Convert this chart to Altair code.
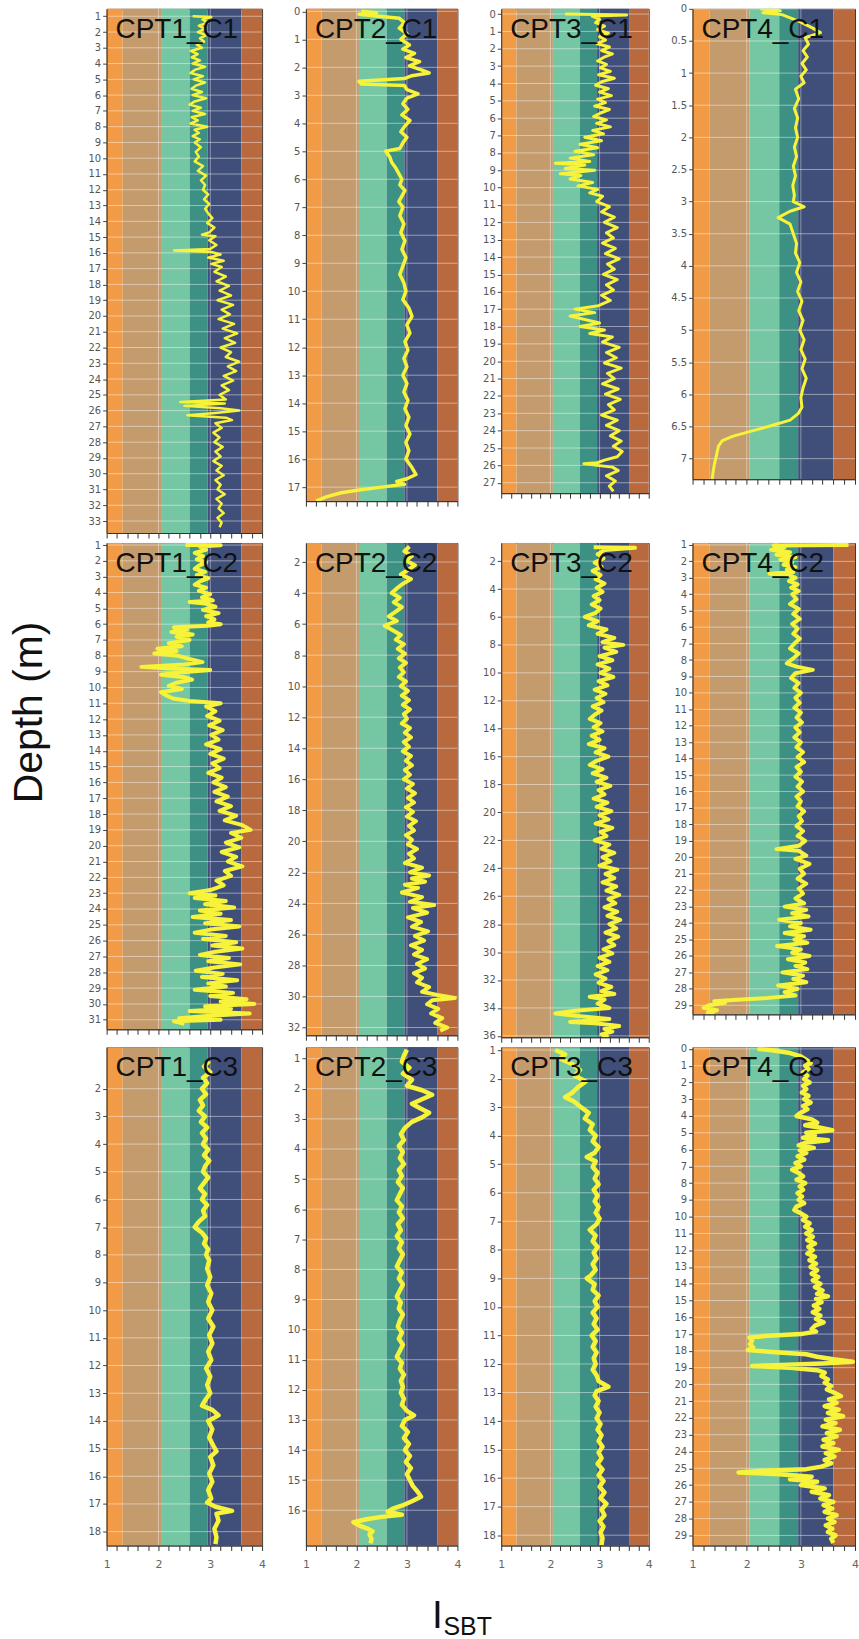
import altair as alt
import pandas as pd

# Robertson soil-behaviour-type zones along the I_SBT axis
zone_names = ["Gravelly sand", "Sands", "Sand mixtures", "Silt mixtures", "Clays", "Organic soils"]
zone_lo = [1.0, 1.31, 2.05, 2.6, 2.95, 3.6]
zone_hi = [1.31, 2.05, 2.6, 2.95, 3.6, 4.0]
zone_colors = ["#F19B47", "#C49B6C", "#75C6A2", "#3C9184", "#3F4F79", "#B9693E"]

# I_SBT axis: major ticks at integers, minor ticks every 0.2
isbt_ticks = [1.0, 1.2, 1.4, 1.6, 1.8, 2.0, 2.2, 2.4, 2.6, 2.8, 3.0, 3.2, 3.4, 3.6, 3.8, 4.0]
isbt_labels = [1, 2, 3, 4]

# Depth tick labels of each sounding
ticks_cpt1_c1 = list(range(1, 34))
ticks_cpt2_c1 = list(range(0, 18))
ticks_cpt3_c1 = list(range(0, 28))
ticks_cpt4_c1 = [0, 0.5, 1, 1.5, 2, 2.5, 3, 3.5, 4, 4.5, 5, 5.5, 6, 6.5, 7]
ticks_cpt1_c2 = list(range(1, 32))
ticks_cpt2_c2 = list(range(2, 33, 2))
ticks_cpt3_c2 = list(range(2, 37, 2))
ticks_cpt4_c2 = list(range(1, 30))
ticks_cpt1_c3 = list(range(2, 19))
ticks_cpt2_c3 = list(range(1, 17))
ticks_cpt3_c3 = list(range(1, 19))
ticks_cpt4_c3 = list(range(0, 30))

# (depth m, I_SBT) profiles
cpt1_c1 = [
    (1.0, 2.66), (1.05, 3.02), (1.2, 2.85), (1.4, 2.95), (1.6, 2.78), (1.8, 2.90), (2.0, 2.76), (2.2, 2.92),
    (2.4, 2.80), (2.6, 2.88), (2.8, 2.74), (3.0, 2.84), (3.2, 2.62), (3.4, 2.76), (3.6, 2.64), (3.8, 2.80),
    (4.0, 2.66), (4.2, 2.90), (4.4, 2.70), (4.6, 2.62), (4.8, 2.86), (5.0, 2.68), (5.2, 2.90), (5.4, 2.72),
    (5.6, 2.64), (5.8, 2.84), (6.0, 2.66), (6.2, 2.92), (6.4, 2.70), (6.6, 2.60), (6.8, 2.82), (7.0, 2.66),
    (7.2, 2.90), (7.4, 2.64), (7.6, 2.76), (7.8, 2.62), (8.0, 2.94), (8.2, 2.70), (8.4, 2.78), (8.6, 2.66),
    (8.8, 2.80), (9.0, 2.70), (9.3, 2.82), (9.6, 2.72), (9.9, 2.78), (10.2, 2.70), (10.5, 2.86), (10.8, 2.76),
    (11.1, 2.92), (11.4, 2.82), (11.7, 2.90), (12.0, 2.86), (12.3, 2.96), (12.6, 2.88), (12.9, 2.98), (13.2, 2.90),
    (13.5, 2.96), (13.8, 3.04), (14.1, 2.94), (14.4, 3.08), (14.7, 2.98), (14.85, 2.84), (14.95, 3.10), (15.2, 2.98),
    (15.5, 3.12), (15.75, 3.00), (15.85, 2.30), (15.95, 3.02), (16.1, 3.20), (16.3, 2.96), (16.5, 3.26), (16.7, 3.02),
    (16.9, 3.22), (17.2, 3.08), (17.5, 3.30), (17.8, 3.12), (18.1, 3.36), (18.4, 3.18), (18.7, 3.40), (19.0, 3.14),
    (19.3, 3.44), (19.6, 3.22), (19.9, 3.38), (20.2, 3.16), (20.5, 3.46), (20.8, 3.24), (21.1, 3.52), (21.4, 3.28),
    (21.7, 3.48), (22.0, 3.20), (22.3, 3.40), (22.6, 3.30), (22.9, 3.56), (23.2, 3.34), (23.5, 3.50), (23.8, 3.26),
    (24.1, 3.44), (24.4, 3.22), (24.7, 3.36), (25.0, 3.18), (25.3, 3.30), (25.45, 2.42), (25.55, 3.28), (25.7, 2.50),
    (25.85, 3.20), (26.0, 3.56), (26.15, 3.10), (26.3, 2.56), (26.45, 3.30), (26.6, 3.42), (26.8, 3.10), (27.1, 3.22),
    (27.4, 3.06), (27.7, 3.18), (28.0, 3.08), (28.3, 3.24), (28.6, 3.10), (28.9, 3.20), (29.2, 3.06), (29.5, 3.22),
    (29.8, 3.12), (30.1, 3.26), (30.4, 3.10), (30.7, 3.20), (31.0, 3.14), (31.3, 3.28), (31.6, 3.12), (31.9, 3.22),
    (32.2, 3.16), (32.5, 3.26), (32.8, 3.14), (33.1, 3.22), (33.4, 3.18),
]

cpt2_c1 = [
    (0.0, 2.10), (0.05, 2.40), (0.1, 2.05), (0.15, 2.30), (0.25, 2.85), (0.4, 2.95), (0.6, 2.85), (0.8, 3.00),
    (1.0, 2.88), (1.2, 3.05), (1.35, 2.92), (1.5, 3.15), (1.65, 2.98), (1.8, 3.25), (1.95, 3.05), (2.1, 3.30),
    (2.2, 3.44), (2.3, 3.10), (2.4, 2.95), (2.5, 2.05), (2.6, 2.10), (2.65, 2.95), (2.8, 3.00), (2.95, 3.22),
    (3.1, 3.00), (3.3, 2.92), (3.5, 3.02), (3.7, 2.90), (3.9, 3.06), (4.1, 2.96), (4.3, 2.88), (4.5, 3.00),
    (4.7, 2.92), (4.9, 2.86), (5.0, 2.58), (5.2, 2.66), (5.4, 2.70), (5.6, 2.78), (5.8, 2.84), (6.0, 2.90),
    (6.2, 2.86), (6.4, 2.96), (6.6, 2.90), (6.8, 2.84), (7.0, 2.92), (7.3, 2.86), (7.6, 2.94), (7.9, 2.88),
    (8.2, 2.96), (8.5, 2.90), (8.8, 2.98), (9.1, 2.92), (9.4, 2.86), (9.7, 2.94), (10.0, 2.98), (10.3, 2.92),
    (10.6, 3.04), (10.9, 3.10), (11.2, 3.00), (11.5, 3.06), (11.8, 2.96), (12.1, 3.02), (12.4, 2.94), (12.7, 3.00),
    (13.0, 2.92), (13.3, 3.00), (13.6, 2.94), (13.9, 3.02), (14.2, 2.96), (14.5, 3.04), (14.8, 2.98), (15.1, 3.06),
    (15.4, 2.98), (15.7, 3.04), (16.0, 2.98), (16.3, 3.10), (16.55, 3.18), (16.7, 3.00), (16.8, 2.80), (16.9, 2.95),
    (17.0, 2.50), (17.1, 2.05), (17.2, 1.70), (17.35, 1.40), (17.5, 1.20),
]

cpt3_c1 = [
    (0.0, 2.30), (0.05, 3.55), (0.12, 2.85), (0.3, 3.00), (0.5, 2.92), (0.7, 3.10), (0.9, 2.96), (1.1, 3.18),
    (1.3, 3.00), (1.5, 3.12), (1.7, 2.94), (1.9, 3.20), (2.1, 3.04), (2.3, 3.26), (2.5, 3.08), (2.7, 2.96),
    (2.9, 3.14), (3.1, 3.02), (3.3, 3.22), (3.5, 2.98), (3.7, 3.30), (3.9, 3.04), (4.1, 2.92), (4.3, 3.18),
    (4.5, 3.00), (4.7, 3.24), (4.9, 2.96), (5.1, 3.12), (5.3, 2.90), (5.5, 3.20), (5.7, 3.02), (5.9, 2.88),
    (6.1, 3.14), (6.3, 2.94), (6.5, 3.22), (6.7, 2.86), (6.9, 3.08), (7.1, 2.70), (7.3, 3.04), (7.5, 2.60),
    (7.7, 2.96), (7.9, 2.50), (8.1, 2.88), (8.3, 2.40), (8.5, 2.80), (8.6, 2.10), (8.7, 2.70), (8.9, 2.30),
    (9.0, 2.90), (9.2, 2.20), (9.3, 2.62), (9.5, 2.40), (9.7, 2.86), (9.9, 2.56), (10.1, 2.96), (10.3, 2.80),
    (10.5, 3.06), (10.8, 2.94), (11.1, 3.20), (11.4, 3.04), (11.7, 3.30), (12.0, 3.10), (12.3, 3.36), (12.6, 3.14),
    (12.9, 3.28), (13.2, 3.06), (13.5, 3.32), (13.8, 3.12), (14.1, 3.40), (14.4, 3.16), (14.7, 3.30), (15.0, 3.08),
    (15.3, 3.36), (15.6, 3.14), (15.9, 3.28), (16.2, 3.04), (16.5, 3.22), (16.8, 2.98), (17.0, 2.50), (17.2, 2.90),
    (17.4, 2.40), (17.6, 2.70), (17.8, 3.00), (18.0, 2.60), (18.2, 3.10), (18.4, 2.80), (18.6, 3.26), (18.9, 3.06),
    (19.2, 3.40), (19.5, 3.14), (19.8, 3.34), (20.1, 3.10), (20.4, 3.44), (20.7, 3.16), (21.0, 3.30), (21.3, 3.06),
    (21.6, 3.38), (21.9, 3.12), (22.2, 3.42), (22.5, 3.18), (22.8, 3.30), (23.1, 3.04), (23.4, 3.36), (23.7, 3.14),
    (24.0, 3.40), (24.3, 3.22), (24.6, 3.44), (24.9, 3.28), (25.2, 3.46), (25.5, 3.36), (25.7, 3.10), (25.85, 2.95),
    (25.9, 2.68), (26.0, 2.95), (26.1, 3.26), (26.3, 3.38), (26.6, 3.14), (26.9, 3.32), (27.2, 3.20), (27.5, 3.28),
]

cpt4_c1 = [
    (0.0, 2.25), (0.03, 2.62), (0.06, 2.30), (0.09, 2.65), (0.2, 2.98), (0.3, 3.22), (0.37, 3.36), (0.45, 3.08),
    (0.55, 3.14), (0.65, 3.04), (0.75, 3.12), (0.85, 3.02), (0.95, 3.10), (1.05, 3.00), (1.15, 3.06), (1.25, 2.90),
    (1.4, 2.96), (1.55, 2.88), (1.7, 2.94), (1.85, 2.90), (2.0, 2.94), (2.15, 2.88), (2.3, 2.92), (2.45, 2.86),
    (2.6, 2.90), (2.75, 2.85), (2.9, 2.88), (3.0, 2.86), (3.08, 3.06), (3.15, 2.80), (3.25, 2.58), (3.35, 2.80),
    (3.5, 2.86), (3.65, 2.92), (3.8, 2.90), (3.95, 2.98), (4.1, 2.92), (4.25, 3.00), (4.4, 2.94), (4.55, 3.02),
    (4.7, 2.96), (4.85, 3.04), (5.0, 2.98), (5.15, 3.06), (5.3, 3.00), (5.45, 3.08), (5.6, 3.02), (5.75, 3.10),
    (5.9, 3.04), (6.05, 3.00), (6.2, 3.02), (6.3, 2.95), (6.4, 2.80), (6.5, 2.40), (6.58, 2.05), (6.65, 1.75),
    (6.72, 1.55), (6.8, 1.48), (6.95, 1.44), (7.1, 1.40), (7.2, 1.38), (7.33, 1.36),
]

cpt1_c2 = [
    (1.0, 2.52), (1.02, 3.20), (1.1, 2.80), (1.3, 2.92), (1.5, 2.70), (1.7, 2.86), (1.9, 2.74), (2.1, 2.92),
    (2.3, 2.78), (2.5, 2.70), (2.7, 2.90), (2.9, 2.74), (3.1, 2.96), (3.3, 2.80), (3.5, 2.70), (3.7, 2.92),
    (3.9, 2.78), (4.1, 3.00), (4.3, 2.84), (4.5, 3.05), (4.6, 2.60), (4.7, 2.90), (4.9, 3.10), (5.1, 2.86),
    (5.3, 3.16), (5.5, 2.92), (5.7, 3.08), (5.9, 2.96), (6.0, 3.20), (6.1, 2.95), (6.2, 2.30), (6.35, 2.55),
    (6.5, 2.25), (6.65, 2.66), (6.8, 2.35), (7.0, 2.60), (7.2, 2.20), (7.4, 2.45), (7.55, 1.98), (7.7, 2.35),
    (7.85, 1.92), (8.0, 2.38), (8.2, 2.60), (8.4, 2.85), (8.55, 2.50), (8.7, 1.67), (8.8, 2.20), (8.9, 3.00),
    (9.05, 2.40), (9.2, 2.05), (9.35, 2.50), (9.5, 2.65), (9.7, 2.35), (9.9, 2.20), (10.1, 2.45), (10.3, 2.05),
    (10.5, 2.15), (10.7, 2.28), (10.85, 2.60), (11.0, 3.20), (11.2, 2.92), (11.5, 3.10), (11.8, 2.94), (12.1, 3.18),
    (12.4, 2.98), (12.7, 3.24), (13.0, 3.02), (13.3, 3.16), (13.6, 2.92), (13.9, 3.20), (14.2, 3.00), (14.5, 3.26),
    (14.8, 3.04), (15.1, 3.18), (15.4, 2.96), (15.7, 3.22), (16.0, 3.06), (16.3, 3.30), (16.6, 3.08), (16.9, 3.34),
    (17.2, 3.12), (17.5, 3.40), (17.8, 3.18), (18.1, 3.50), (18.4, 3.28), (18.7, 3.62), (19.0, 3.78), (19.2, 3.40),
    (19.5, 3.60), (19.8, 3.30), (20.1, 3.56), (20.4, 3.22), (20.7, 3.50), (21.0, 3.34), (21.3, 3.62), (21.6, 3.28),
    (21.9, 3.40), (22.2, 3.12), (22.5, 3.26), (22.8, 3.00), (23.0, 2.60), (23.15, 3.10), (23.3, 2.70), (23.5, 3.30),
    (23.7, 2.90), (23.9, 3.46), (24.1, 2.80), (24.3, 3.20), (24.5, 2.66), (24.7, 3.40), (24.9, 2.90), (25.1, 3.56),
    (25.3, 3.00), (25.5, 2.70), (25.7, 3.30), (25.9, 2.86), (26.1, 3.50), (26.3, 3.04), (26.5, 3.62), (26.7, 3.10),
    (26.9, 2.80), (27.1, 3.36), (27.3, 2.96), (27.5, 3.58), (27.7, 3.08), (27.9, 2.72), (28.1, 3.24), (28.3, 2.84),
    (28.5, 3.52), (28.7, 2.96), (28.9, 3.30), (29.1, 2.70), (29.3, 3.44), (29.5, 3.00), (29.7, 3.70), (29.85, 3.20),
    (30.0, 3.85), (30.15, 2.90), (30.3, 3.40), (30.45, 2.60), (30.6, 3.76), (30.75, 3.00), (30.9, 2.40), (31.0, 3.20),
    (31.1, 2.30), (31.25, 2.50),
]

cpt2_c2 = [
    (1.0, 3.05), (1.3, 2.95), (1.6, 3.10), (1.9, 2.98), (2.2, 3.16), (2.5, 3.02), (2.8, 2.88), (3.1, 3.08),
    (3.4, 2.92), (3.7, 2.80), (4.0, 2.70), (4.3, 2.86), (4.6, 2.74), (4.9, 2.90), (5.2, 2.78), (5.5, 2.64),
    (5.8, 2.80), (6.1, 2.56), (6.4, 2.72), (6.7, 2.88), (7.0, 2.78), (7.3, 2.94), (7.6, 2.82), (7.9, 2.96),
    (8.2, 2.84), (8.5, 2.98), (8.8, 2.86), (9.1, 2.94), (9.4, 2.84), (9.7, 2.98), (10.0, 2.88), (10.3, 3.02),
    (10.6, 2.90), (10.9, 3.04), (11.2, 2.92), (11.5, 3.06), (11.8, 2.94), (12.1, 3.00), (12.4, 2.90), (12.7, 3.06),
    (13.0, 2.96), (13.3, 3.08), (13.6, 2.94), (13.9, 3.04), (14.2, 2.92), (14.5, 3.08), (14.8, 2.98), (15.1, 3.10),
    (15.4, 2.96), (15.7, 3.06), (16.0, 2.94), (16.3, 3.12), (16.6, 3.00), (16.9, 3.16), (17.2, 3.02), (17.5, 3.14),
    (17.8, 2.98), (18.1, 3.12), (18.4, 3.00), (18.7, 3.18), (19.0, 3.04), (19.3, 3.14), (19.6, 2.98), (19.9, 3.10),
    (20.2, 3.02), (20.5, 3.20), (20.8, 3.04), (21.1, 3.14), (21.4, 2.96), (21.7, 3.30), (22.0, 3.06), (22.2, 3.44),
    (22.4, 3.10), (22.6, 3.36), (22.8, 2.96), (23.0, 3.22), (23.3, 2.90), (23.6, 3.30), (23.9, 3.06), (24.1, 3.54),
    (24.3, 3.12), (24.6, 3.40), (24.9, 3.02), (25.2, 3.28), (25.5, 3.10), (25.8, 3.42), (26.1, 3.16), (26.4, 3.34),
    (26.7, 3.08), (27.0, 3.30), (27.3, 3.14), (27.6, 3.40), (27.9, 3.20), (28.2, 3.36), (28.5, 3.14), (28.8, 3.30),
    (29.1, 3.20), (29.4, 3.44), (29.7, 3.30), (29.9, 3.60), (30.1, 3.95), (30.25, 3.50), (30.5, 3.40), (30.8, 3.62),
    (31.1, 3.48), (31.4, 3.70), (31.7, 3.56), (32.0, 3.80), (32.2, 3.66),
]

cpt3_c2 = [
    (1.0, 2.88), (1.05, 3.72), (1.2, 3.10), (1.5, 2.96), (1.8, 3.08), (2.1, 2.90), (2.4, 3.04), (2.7, 2.86),
    (3.0, 3.02), (3.3, 2.92), (3.6, 3.10), (3.9, 2.94), (4.2, 3.06), (4.5, 2.88), (4.8, 3.00), (5.1, 2.84),
    (5.4, 3.02), (5.7, 2.92), (6.0, 2.70), (6.3, 2.96), (6.6, 2.78), (6.9, 3.14), (7.2, 2.96), (7.5, 3.30),
    (7.8, 3.06), (8.0, 3.48), (8.2, 3.10), (8.5, 3.34), (8.8, 3.00), (9.1, 3.26), (9.4, 2.96), (9.7, 3.20),
    (10.0, 3.02), (10.3, 3.28), (10.6, 2.98), (10.9, 3.16), (11.2, 2.90), (11.5, 3.12), (11.8, 2.94), (12.1, 3.08),
    (12.4, 2.86), (12.7, 3.04), (13.0, 2.90), (13.3, 2.80), (13.6, 3.02), (13.9, 2.88), (14.2, 3.06), (14.5, 2.84),
    (14.8, 3.00), (15.1, 2.78), (15.4, 3.10), (15.7, 2.92), (16.0, 3.18), (16.3, 2.94), (16.6, 2.80), (16.9, 3.06),
    (17.2, 2.86), (17.5, 3.14), (17.8, 2.94), (18.1, 3.22), (18.4, 2.98), (18.7, 3.10), (19.0, 2.88), (19.3, 3.16),
    (19.6, 2.94), (19.9, 3.24), (20.2, 3.00), (20.5, 3.18), (20.8, 2.92), (21.1, 3.26), (21.4, 3.02), (21.7, 3.14),
    (22.0, 2.90), (22.3, 3.20), (22.6, 3.04), (22.9, 3.30), (23.2, 3.06), (23.5, 3.22), (23.8, 3.00), (24.1, 3.36),
    (24.4, 3.12), (24.7, 3.30), (25.0, 3.06), (25.3, 3.34), (25.6, 3.14), (25.9, 3.40), (26.2, 3.18), (26.5, 3.32),
    (26.8, 3.10), (27.1, 3.36), (27.4, 3.16), (27.7, 3.42), (28.0, 3.20), (28.3, 3.34), (28.6, 3.12), (28.9, 3.38),
    (29.2, 3.18), (29.5, 3.30), (29.8, 3.08), (30.1, 3.26), (30.4, 3.00), (30.7, 3.20), (31.0, 2.96), (31.3, 3.16),
    (31.6, 2.92), (31.9, 3.12), (32.2, 2.98), (32.5, 3.24), (32.8, 3.04), (33.0, 3.30), (33.2, 2.80), (33.4, 3.10),
    (33.7, 2.96), (34.0, 3.20), (34.2, 2.50), (34.4, 2.10), (34.6, 2.60), (34.8, 3.20), (35.0, 2.40), (35.1, 2.90),
    (35.3, 3.40), (35.5, 3.10), (35.7, 3.26), (35.9, 3.04), (36.1, 3.18),
]

cpt4_c2 = [
    (1.0, 3.88), (1.03, 2.50), (1.15, 2.70), (1.3, 2.45), (1.45, 2.80), (1.6, 2.55), (1.75, 2.90), (1.9, 2.62),
    (2.05, 2.84), (2.2, 2.68), (2.35, 2.90), (2.5, 2.74), (2.65, 2.86), (2.75, 2.42), (2.85, 2.80), (3.0, 2.90),
    (3.2, 2.78), (3.4, 2.94), (3.6, 2.82), (3.8, 2.96), (4.0, 2.84), (4.3, 2.92), (4.6, 2.80), (4.9, 2.96),
    (5.2, 2.86), (5.5, 2.98), (5.8, 2.84), (6.1, 2.94), (6.4, 2.86), (6.7, 2.98), (7.0, 2.88), (7.3, 2.80),
    (7.6, 2.96), (7.9, 2.86), (8.2, 2.74), (8.4, 2.92), (8.6, 3.22), (8.8, 2.90), (9.1, 2.82), (9.4, 2.96),
    (9.7, 2.88), (10.0, 3.00), (10.3, 2.90), (10.6, 2.98), (10.9, 2.88), (11.2, 3.00), (11.5, 2.92), (11.8, 3.02),
    (12.1, 2.90), (12.4, 2.98), (12.7, 2.88), (13.0, 3.00), (13.3, 2.92), (13.6, 3.04), (13.9, 2.94), (14.2, 3.06),
    (14.5, 2.92), (14.8, 3.00), (15.1, 2.90), (15.4, 3.02), (15.7, 2.94), (16.0, 3.04), (16.3, 2.92), (16.6, 3.00),
    (16.9, 2.94), (17.2, 3.06), (17.5, 2.96), (17.8, 3.02), (18.1, 2.92), (18.4, 3.04), (18.7, 2.94), (19.0, 3.08),
    (19.3, 2.96), (19.5, 2.55), (19.6, 2.96), (19.9, 3.10), (20.1, 2.90), (20.4, 3.16), (20.7, 2.98), (21.0, 3.06),
    (21.3, 2.94), (21.6, 3.10), (21.9, 2.96), (22.2, 3.04), (22.5, 2.90), (22.8, 3.06), (23.0, 2.70), (23.2, 3.10),
    (23.4, 2.84), (23.6, 3.14), (23.8, 2.60), (24.0, 3.00), (24.2, 2.80), (24.4, 3.18), (24.6, 2.70), (24.8, 3.06),
    (25.0, 2.88), (25.2, 3.12), (25.4, 2.56), (25.6, 3.00), (25.8, 2.84), (26.0, 3.16), (26.2, 2.76), (26.4, 3.08),
    (26.6, 2.90), (26.8, 3.12), (27.0, 2.66), (27.2, 3.04), (27.4, 2.86), (27.6, 3.10), (27.8, 2.58), (28.0, 2.94),
    (28.2, 2.70), (28.4, 2.90), (28.55, 2.40), (28.65, 1.90), (28.75, 1.40), (28.85, 1.60), (29.0, 1.30), (29.15, 1.20),
    (29.3, 1.45), (29.45, 1.28), (29.6, 1.40),
]

cpt1_c3 = [
    (1.0, 2.98), (1.2, 2.88), (1.4, 3.00), (1.6, 2.86), (1.8, 2.94), (2.0, 2.84), (2.2, 2.92), (2.4, 2.80),
    (2.6, 2.86), (2.8, 2.78), (3.0, 2.90), (3.2, 2.82), (3.4, 2.94), (3.6, 2.84), (3.8, 2.92), (4.0, 2.86),
    (4.2, 2.96), (4.4, 2.88), (4.6, 2.98), (4.8, 2.90), (5.0, 2.86), (5.2, 2.96), (5.4, 2.88), (5.6, 2.80),
    (5.8, 2.90), (6.0, 2.84), (6.2, 2.94), (6.4, 2.86), (6.6, 2.90), (6.8, 2.78), (7.0, 2.70), (7.2, 2.84),
    (7.4, 2.92), (7.6, 2.88), (7.8, 2.96), (8.0, 2.92), (8.2, 2.98), (8.5, 2.94), (8.8, 3.00), (9.1, 2.94),
    (9.4, 3.02), (9.7, 2.96), (10.0, 3.04), (10.3, 2.96), (10.6, 3.06), (10.9, 2.98), (11.2, 3.04), (11.5, 2.96),
    (11.8, 3.02), (12.1, 2.92), (12.4, 3.00), (12.7, 2.94), (13.0, 3.00), (13.2, 2.92), (13.45, 2.84), (13.6, 3.04),
    (13.8, 3.16), (14.0, 2.96), (14.3, 3.04), (14.6, 2.98), (14.9, 3.06), (15.1, 3.12), (15.3, 3.00), (15.6, 3.06),
    (15.9, 2.98), (16.2, 3.04), (16.5, 2.96), (16.8, 3.02), (16.95, 2.94), (17.1, 3.10), (17.25, 3.42), (17.35, 3.12),
    (17.6, 3.16), (17.9, 3.08), (18.2, 3.12), (18.45, 3.10),
]

cpt2_c3 = [
    (0.7, 3.00), (0.9, 2.94), (1.1, 2.90), (1.3, 3.05), (1.5, 2.92), (1.7, 3.10), (1.9, 3.00), (2.05, 3.30),
    (2.2, 3.50), (2.35, 3.30), (2.5, 3.10), (2.65, 3.26), (2.8, 3.44), (2.95, 3.30), (3.1, 3.10), (3.3, 2.96),
    (3.5, 2.88), (3.7, 2.94), (3.9, 2.84), (4.1, 2.92), (4.3, 2.86), (4.5, 2.94), (4.7, 2.84), (4.9, 2.90),
    (5.1, 2.82), (5.3, 2.92), (5.5, 2.86), (5.7, 2.80), (5.9, 2.90), (6.1, 2.84), (6.3, 2.92), (6.5, 2.82),
    (6.7, 2.88), (6.9, 2.80), (7.1, 2.90), (7.3, 2.84), (7.5, 2.92), (7.7, 2.86), (7.9, 2.80), (8.1, 2.90),
    (8.3, 2.84), (8.5, 2.92), (8.7, 2.86), (8.9, 2.80), (9.1, 2.88), (9.3, 2.84), (9.5, 2.92), (9.7, 2.86),
    (9.9, 2.82), (10.1, 2.90), (10.3, 2.84), (10.5, 2.92), (10.7, 2.86), (10.9, 2.80), (11.1, 2.90), (11.3, 2.86),
    (11.5, 2.94), (11.7, 2.88), (11.9, 2.92), (12.1, 2.88), (12.3, 2.94), (12.5, 2.90), (12.7, 3.00), (12.85, 3.14),
    (13.0, 2.96), (13.2, 2.90), (13.4, 3.02), (13.6, 2.94), (13.8, 3.04), (14.0, 2.96), (14.2, 3.06), (14.4, 2.98),
    (14.6, 3.08), (14.8, 3.00), (15.0, 3.06), (15.2, 3.12), (15.4, 3.22), (15.55, 3.28), (15.7, 3.10), (15.85, 2.90),
    (15.95, 2.72), (16.05, 2.62), (16.15, 2.90), (16.22, 2.50), (16.3, 2.20), (16.4, 1.94), (16.5, 2.05), (16.6, 2.20),
    (16.7, 2.32), (16.8, 2.26), (16.95, 2.30), (17.1, 2.28),
]

cpt3_c3 = [
    (1.0, 2.10), (1.15, 2.30), (1.3, 2.20), (1.5, 2.45), (1.7, 2.60), (1.9, 2.50), (2.1, 2.72), (2.3, 2.56),
    (2.5, 2.44), (2.65, 2.30), (2.8, 2.48), (3.0, 2.62), (3.2, 2.78), (3.4, 2.70), (3.6, 2.86), (3.8, 2.80),
    (4.0, 2.92), (4.2, 2.86), (4.4, 2.98), (4.6, 2.90), (4.75, 2.74), (4.9, 2.92), (5.1, 2.86), (5.3, 2.96),
    (5.5, 2.90), (5.7, 2.98), (5.9, 2.88), (6.1, 2.96), (6.3, 2.90), (6.5, 2.98), (6.7, 2.92), (6.9, 3.00),
    (7.1, 2.94), (7.3, 2.80), (7.5, 2.92), (7.7, 2.86), (7.9, 2.96), (8.1, 2.88), (8.3, 2.94), (8.5, 2.86),
    (8.7, 2.92), (8.9, 2.82), (9.0, 2.74), (9.2, 2.90), (9.4, 2.86), (9.6, 2.98), (9.8, 2.90), (10.0, 2.96),
    (10.2, 2.86), (10.4, 2.94), (10.6, 2.88), (10.8, 2.96), (11.0, 2.84), (11.2, 2.92), (11.4, 2.86), (11.6, 2.94),
    (11.8, 2.88), (12.0, 2.92), (12.2, 2.86), (12.4, 2.94), (12.6, 2.98), (12.8, 3.18), (12.95, 2.94), (13.1, 2.90),
    (13.3, 2.98), (13.5, 2.92), (13.7, 3.00), (13.9, 2.94), (14.1, 3.02), (14.3, 2.96), (14.5, 3.04), (14.7, 2.98),
    (14.9, 3.06), (15.1, 2.98), (15.3, 3.04), (15.5, 2.96), (15.7, 3.06), (15.9, 2.98), (16.1, 3.08), (16.3, 3.00),
    (16.5, 3.10), (16.7, 3.02), (16.9, 3.14), (17.1, 3.04), (17.3, 3.10), (17.5, 3.00), (17.7, 3.08), (17.9, 3.02),
    (18.1, 3.06), (18.35, 3.04),
]

cpt4_c3 = [
    (0.0, 2.20), (0.1, 2.50), (0.25, 2.80), (0.45, 3.00), (0.65, 3.10), (0.85, 3.18), (1.0, 3.08), (1.2, 3.14),
    (1.4, 3.04), (1.6, 3.12), (1.8, 3.06), (2.0, 3.16), (2.2, 3.04), (2.4, 3.10), (2.6, 3.02), (2.8, 3.14),
    (3.0, 3.06), (3.2, 3.18), (3.4, 3.04), (3.6, 3.12), (3.8, 3.00), (4.0, 2.92), (4.2, 3.20), (4.4, 3.30),
    (4.55, 3.08), (4.7, 3.36), (4.85, 3.58), (5.0, 3.10), (5.15, 3.26), (5.3, 3.04), (5.45, 3.50), (5.6, 3.08),
    (5.75, 2.96), (5.9, 3.24), (6.05, 2.98), (6.2, 3.10), (6.4, 2.94), (6.6, 3.06), (6.8, 2.90), (7.0, 3.00),
    (7.2, 2.84), (7.4, 2.96), (7.6, 3.04), (7.8, 2.92), (8.0, 3.08), (8.2, 2.98), (8.4, 3.04), (8.6, 2.94),
    (8.8, 3.02), (9.0, 2.96), (9.2, 3.06), (9.4, 2.92), (9.6, 2.88), (9.8, 3.00), (10.0, 3.10), (10.2, 3.04),
    (10.4, 3.16), (10.6, 3.08), (10.8, 3.20), (11.0, 3.10), (11.2, 3.22), (11.4, 3.12), (11.6, 3.26), (11.8, 3.14),
    (12.0, 3.22), (12.2, 3.12), (12.4, 3.26), (12.6, 3.16), (12.8, 3.28), (13.0, 3.18), (13.2, 3.30), (13.4, 3.20),
    (13.6, 3.32), (13.8, 3.22), (14.0, 3.36), (14.2, 3.26), (14.4, 3.40), (14.6, 3.30), (14.75, 3.50), (14.9, 3.28),
    (15.1, 3.38), (15.3, 3.24), (15.5, 3.34), (15.7, 3.22), (15.9, 3.36), (16.1, 3.28), (16.3, 3.42), (16.5, 3.26),
    (16.7, 3.20), (16.85, 3.28), (17.0, 3.00), (17.1, 2.40), (17.2, 2.05), (17.4, 2.10), (17.6, 2.06), (17.8, 2.12),
    (17.95, 2.02), (18.1, 2.60), (18.2, 3.10), (18.35, 3.30), (18.5, 3.60), (18.65, 3.96), (18.75, 3.40), (18.85, 2.50),
    (18.9, 2.10), (19.0, 2.80), (19.15, 3.30), (19.3, 3.44), (19.5, 3.38), (19.7, 3.50), (19.9, 3.44), (20.1, 3.56),
    (20.3, 3.48), (20.5, 3.62), (20.7, 3.74), (20.9, 3.52), (21.1, 3.66), (21.3, 3.44), (21.5, 3.70), (21.7, 3.50),
    (21.9, 3.78), (22.1, 3.46), (22.3, 3.64), (22.5, 3.40), (22.7, 3.72), (22.9, 3.48), (23.1, 3.66), (23.3, 3.42),
    (23.5, 3.60), (23.7, 3.40), (23.9, 3.70), (24.1, 3.46), (24.3, 3.62), (24.5, 3.44), (24.7, 3.56), (24.9, 3.38),
    (25.05, 3.10), (25.15, 2.30), (25.25, 1.85), (25.35, 2.60), (25.5, 3.20), (25.65, 2.80), (25.8, 3.30), (26.0, 3.00),
    (26.2, 3.44), (26.4, 3.20), (26.6, 3.52), (26.8, 3.36), (27.0, 3.60), (27.2, 3.42), (27.4, 3.58), (27.6, 3.44),
    (27.8, 3.66), (28.0, 3.50), (28.2, 3.62), (28.4, 3.46), (28.6, 3.58), (28.8, 3.50), (29.0, 3.64), (29.2, 3.56),
    (29.45, 3.60),
]

# Panel layout (px)
col_widths = [156, 152, 148, 163]
col_gap = 44
row_gap = 10

zones_df = pd.DataFrame({"zone": zone_names, "lo": zone_lo, "hi": zone_hi})

LINE_YELLOW = "#F7F23A"
FONT = "Liberation Sans"


def isbt_panel(name, profile, depth_range, depth_ticks, col, height, bottom_row, stroke_w, extra=()):
    prof = pd.DataFrame(profile, columns=["depth", "isbt"])
    prof["seq"] = range(len(prof))
    width = col_widths[col]

    x_scale = alt.Scale(domain=[1, 4], nice=False, zero=False)
    y_scale = alt.Scale(domain=depth_range, reverse=True, nice=False, zero=False)

    x_axis = alt.Axis(
        values=isbt_ticks, labels=bottom_row, title=None, grid=False, format="~g",
        labelExpr="datum.value % 1 === 0 ? datum.label : ''",
        tickSize=5, tickColor="#333", domainColor="#333", labelFontSize=11,
        labelColor="#666", labelPadding=8, labelOverlap=False, labelFlush=False, zindex=1,
    )
    y_axis = alt.Axis(
        values=depth_ticks, format="~g", title=None, grid=False, tickSize=4,
        tickColor="#444", domainColor="#333", labelFontSize=10, labelColor="#555",
        labelPadding=2, labelOverlap=False, labelFlush=False, zindex=1,
    )

    bands = alt.Chart(zones_df).mark_rect().encode(
        x=alt.X("lo:Q", scale=x_scale, axis=x_axis),
        x2="hi:Q",
        color=alt.Color("zone:N", scale=alt.Scale(domain=zone_names, range=zone_colors), legend=None),
    )
    hgrid = alt.Chart(pd.DataFrame({"depth": depth_ticks})).mark_rule(
        color="white", opacity=0.45, strokeWidth=1
    ).encode(y=alt.Y("depth:Q", scale=y_scale, axis=y_axis))
    vgrid = alt.Chart(pd.DataFrame({"isbt": [v for v in isbt_labels if 1 < v < 4]})).mark_rule(
        color="white", opacity=0.4, strokeWidth=1
    ).encode(x=alt.X("isbt:Q", scale=x_scale, axis=x_axis))
    line = alt.Chart(prof).mark_line(
        color=LINE_YELLOW, strokeWidth=stroke_w, clip=True, strokeJoin="round"
    ).encode(
        x=alt.X("isbt:Q", scale=x_scale, axis=x_axis),
        y=alt.Y("depth:Q", scale=y_scale, axis=y_axis),
        order="seq:Q",
    )
    label = alt.Chart(pd.DataFrame({"t": [name]})).mark_text(
        align="left", baseline="alphabetic", fontSize=28, font=FONT, color="#111"
    ).encode(text="t:N", x=alt.value(9), y=alt.value(29))

    return alt.layer(bands, hgrid, vgrid, line, label, *extra).properties(width=width, height=height)


def text_layer(text, x, y, size, **kw):
    return alt.Chart(pd.DataFrame({"t": [text]})).mark_text(
        fontSize=size, font=FONT, color="#111", **kw
    ).encode(text="t:N", x=alt.value(x), y=alt.value(y))


# Shared axis titles, drawn from the panels next to them
depth_title = text_layer("Depth (m)", -77, 170, 41, angle=270, align="center", baseline="middle")
isbt_main = text_layer("I", 132, 583, 39, align="center", baseline="alphabetic")
isbt_sub = text_layer("SBT", 138, 590, 25, align="left", baseline="alphabetic")

panels = [
    isbt_panel("CPT1_C1", cpt1_c1, [0.53, 33.76], ticks_cpt1_c1, 0, 526, False, 2.5),
    isbt_panel("CPT2_C1", cpt2_c1, [-0.09, 17.5], ticks_cpt2_c1, 1, 494, False, 3.5),
    isbt_panel("CPT3_C1", cpt3_c1, [-0.3, 27.6], ticks_cpt3_c1, 2, 486, False, 3),
    isbt_panel("CPT4_C1", cpt4_c1, [0.0, 7.32], ticks_cpt4_c1, 3, 472, False, 3),
    isbt_panel("CPT1_C2", cpt1_c2, [0.87, 31.6], ticks_cpt1_c2, 0, 488, False, 4, extra=(depth_title,)),
    isbt_panel("CPT2_C2", cpt2_c2, [0.77, 32.5], ticks_cpt2_c2, 1, 494, False, 4),
    isbt_panel("CPT3_C2", cpt3_c2, [0.7, 36.1], ticks_cpt3_c2, 2, 496, False, 4),
    isbt_panel("CPT4_C2", cpt4_c2, [0.88, 29.55], ticks_cpt4_c2, 3, 473, False, 4),
    isbt_panel("CPT1_C3", cpt1_c3, [0.5, 18.5], ticks_cpt1_c3, 0, 500, True, 4.5),
    isbt_panel("CPT2_C3", cpt2_c3, [0.62, 17.17], ticks_cpt2_c3, 1, 500, True, 4.5, extra=(isbt_main, isbt_sub)),
    isbt_panel("CPT3_C3", cpt3_c3, [0.9, 18.36], ticks_cpt3_c3, 2, 500, True, 4.5),
    isbt_panel("CPT4_C3", cpt4_c3, [-0.1, 29.6], ticks_cpt4_c3, 3, 500, True, 4.5),
]

chart = (
    alt.concat(*panels, columns=4, spacing={"row": row_gap, "column": col_gap}, bounds="flush")
    .properties(padding={"left": 8, "top": 0, "right": 0, "bottom": 0}, background="white")
    .configure_view(stroke="#3a3a3a", strokeWidth=1)
    .configure_axis(labelFont="DejaVu Sans")
)

chart.save("out.html", embed_options={"renderer": "svg", "actions": False})
